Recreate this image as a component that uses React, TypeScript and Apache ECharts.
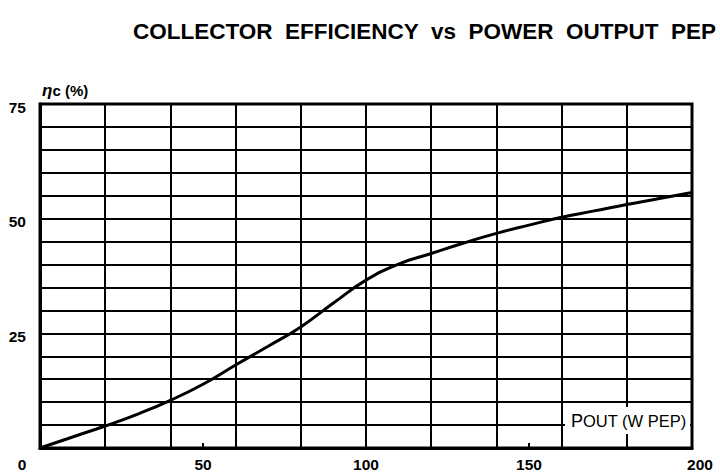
import React, { useEffect, useRef } from "react";
import * as echarts from "echarts";

const powerOut = [0, 10, 20, 30, 40, 50, 60, 70, 80, 90, 100, 110, 120, 130, 140, 150, 160, 170, 180, 190, 200];
const efficiency = [0, 2.4, 4.8, 7.4, 10.4, 13.9, 18.1, 22.2, 26.4, 31.6, 36.6, 40.1, 42.4, 44.7, 46.8, 48.6, 50.3, 51.7, 53.1, 54.4, 55.7];
const xTickLabels = [0, 50, 100, 150, 200];
const yTickLabels = [0, 25, 50, 75];

const FONT = "'Liberation Sans', Arial, sans-serif";
const TICK_FS = 15.5;

export default function App() {
  const ref = useRef<HTMLDivElement>(null);
  useEffect(() => {
    if (!ref.current) return;
    const chart = echarts.init(ref.current, undefined, { renderer: "svg" });
    const data = powerOut.map((p, i) => [p, efficiency[i]]);
    chart.setOption({
      animation: false,
      backgroundColor: "#fff",
      title: {
        text: "COLLECTOR  EFFICIENCY  vs  POWER  OUTPUT  PEP",
        left: 128,
        top: 15,
        textStyle: { fontFamily: FONT, fontWeight: "bold", fontSize: 22.5, color: "#000" },
      },
      grid: {
        left: 40,
        right: 28,
        top: 104,
        bottom: 24,
        show: true,
        borderColor: "#000",
        borderWidth: 3,
        backgroundColor: "transparent",
      },
      xAxis: [
        {
          type: "value",
          min: 0,
          max: 200,
          interval: 50,
          axisLine: { show: true, lineStyle: { color: "#000", width: 3 } },
          axisTick: { show: true, inside: true, length: 5, lineStyle: { color: "#000", width: 2 } },
          splitLine: { show: false },
          axisLabel: {
            margin: 8,
            color: "#000",
            fontFamily: FONT,
            fontWeight: "bold",
            fontSize: TICK_FS,
            formatter: (v: number) => {
              if (!xTickLabels.includes(v)) return "";
              if (v === 0) return "{a|0}";
              if (v === 200) return "{b|200}";
              return "{n|" + v + "}";
            },
            rich: {
              a: { fontFamily: FONT, fontWeight: "bold", fontSize: TICK_FS, color: "#000", padding: [0, 36, 0, 0] },
              b: { fontFamily: FONT, fontWeight: "bold", fontSize: TICK_FS, color: "#000", padding: [0, 0, 0, 16] },
              n: { fontFamily: FONT, fontWeight: "bold", fontSize: TICK_FS, color: "#000" },
            },
          },
        },
        {
          type: "value",
          min: 0,
          max: 200,
          interval: 20,
          position: "bottom",
          axisLine: { show: false },
          axisTick: { show: false },
          axisLabel: { show: false },
          splitLine: { show: true, lineStyle: { color: "#000", width: 2 } },
        },
      ],
      yAxis: [
        {
          type: "value",
          min: 0,
          max: 75,
          interval: 25,
          name: "{i|η}{t|c (%)}",
          nameLocation: "end",
          nameGap: 14,
          nameTextStyle: {
            align: "left",
            verticalAlign: "middle",
            padding: [0, 0, 0, 2],
            fontFamily: FONT,
            fontWeight: "bold",
            fontSize: 15,
            color: "#000",
            rich: {
              i: { fontFamily: FONT, fontWeight: "bold", fontStyle: "italic", fontSize: 17, color: "#000" },
              t: { fontFamily: FONT, fontWeight: "bold", fontSize: 15, color: "#000" },
            },
          },
          axisLine: { show: true, lineStyle: { color: "#000", width: 3 } },
          axisTick: { show: false },
          splitLine: { show: false },
          axisLabel: {
            margin: 14,
            color: "#000",
            fontFamily: FONT,
            fontWeight: "bold",
            fontSize: TICK_FS,
            formatter: (v: number) => (v === 0 || !yTickLabels.includes(v) ? "" : "{c|" + v + "}"),
            rich: {
              c: { fontFamily: FONT, fontWeight: "bold", fontSize: TICK_FS, color: "#000", padding: [6, 0, 0, 0] },
            },
          },
        },
        {
          type: "value",
          min: 0,
          max: 75,
          interval: 5,
          position: "left",
          axisLine: { show: false },
          axisTick: { show: false },
          axisLabel: { show: false },
          splitLine: { show: true, lineStyle: { color: "#000", width: 2 } },
        },
      ],
      graphic: [
        {
          type: "rect",
          shape: { x: 565, y: 407, width: 125, height: 27 },
          style: { fill: "#fff" },
          z: 10,
        },
        {
          type: "text",
          x: 571,
          y: 421,
          z: 11,
          style: {
            text: "{p|P}{o|OUT (W PEP)}",
            verticalAlign: "middle",
            rich: {
              p: { fontFamily: FONT, fontSize: 18, color: "#000" },
              o: { fontFamily: FONT, fontSize: 16.5, color: "#000" },
            },
          },
        },
      ],
      series: [
        {
          type: "line",
          xAxisIndex: 0,
          yAxisIndex: 0,
          data,
          smooth: true,
          showSymbol: false,
          symbol: "none",
          lineStyle: { color: "#000", width: 3 },
          z: 5,
        },
      ],
    });
    return () => chart.dispose();
  }, []);
  return <div ref={ref} style={{ position: "absolute", left: 0, top: 0, width: 720, height: 472 }} />;
}
